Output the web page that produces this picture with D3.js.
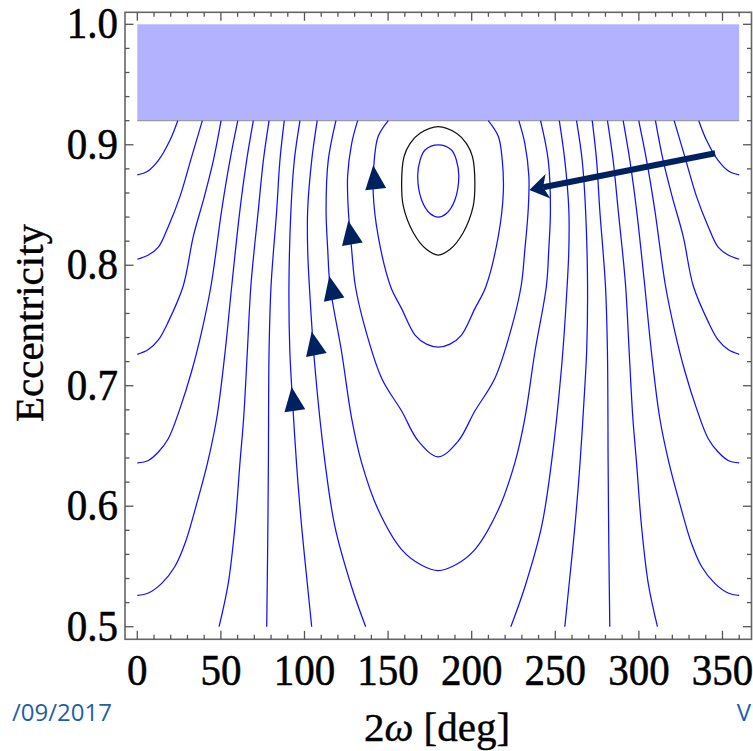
<!DOCTYPE html>
<html><head><meta charset="utf-8">
<script src="https://cdn.jsdelivr.net/npm/d3@7/dist/d3.min.js"></script>
<style>html,body{margin:0;padding:0;background:#fff;overflow:hidden}</style>
</head><body>
<svg id="c" width="753" height="751"></svg>
<script>
// ---------- data ----------
const xTickLabels = [0, 50, 100, 150, 200, 250, 300, 350];
const yTickLabels = [0.5, 0.6, 0.7, 0.8, 0.9, 1.0];
const xMinor = [0,10,20,30,40,50,60,70,80,90,100,110,120,130,140,150,160,170,180,190,200,210,220,230,240,250,260,270,280,290,300,310,320,330,340,350,360];
const yMinor = [0.5,0.52,0.54,0.56,0.58,0.6,0.62,0.64,0.66,0.68,0.7,0.72,0.74,0.76,0.78,0.8,0.82,0.84,0.86,0.88,0.9,0.92,0.94,0.96,0.98,1.0];
const xTitle = "2ω [deg]";
const yTitle = "Eccentricity";
const footerLeft = "/09/2017";
const footerRight = "V";
const forbidden = {x0: 0, x1: 360, e0: 0.92, e1: 1.0};

// blue contour curves, left family
const curveA = [[24.2,0.92],[19.6,0.904],[12.6,0.887],[6.2,0.878],[0,0.875]];
const curveB = [[38.9,0.92],[32.5,0.89],[25.5,0.857],[18.5,0.832],[12.6,0.815],[6.6,0.8085],[0,0.805]];
const curveC = [[50.1,0.92],[45.5,0.887],[40.1,0.857],[33.5,0.824],[27.5,0.783],[18.5,0.753],[12.6,0.738],[6.6,0.730],[0,0.726]];
const curveD = [[60.1,0.92],[55.4,0.887],[50.5,0.846],[44.1,0.783],[38.5,0.745],[32.5,0.712],[25.5,0.681],[18.5,0.656],[12.6,0.645],[6.6,0.638],[0,0.636]];
const curveE = [[69.4,0.92],[65.4,0.887],[61.4,0.846],[56.5,0.783],[52.5,0.728],[47.5,0.673],[42,0.636],[35.5,0.602],[28.5,0.569],[22.5,0.55],[14.6,0.536],[6.6,0.528],[0,0.526]];
const curveF = [[78.8,0.92],[75.4,0.887],[72.4,0.846],[68.0,0.784],[65.8,0.728],[63.6,0.673],[61.4,0.636],[58.4,0.583],[54.4,0.536],[48.9,0.5]];
const curveG = [[87.9,0.92],[85.3,0.887],[83.4,0.846],[80,0.783],[78.8,0.728],[78.4,0.636],[78,0.569],[77.4,0.5]];
const curveH = [[97.3,0.92],[93.9,0.887],[91.9,0.846],[90.7,0.783],[91.2,0.73],[92.3,0.70],[95.3,0.634],[98.3,0.583],[101.9,0.533],[104.3,0.5]];
const curveI = [[107.6,0.92],[104.3,0.887],[101.9,0.846],[101.9,0.813],[102.9,0.783],[106.3,0.7145],[112.3,0.636],[118.2,0.583],[128.2,0.533],[136.6,0.5]];
// blue contour curves, right family
const curveA2 = [[335.8,0.92],[340.4,0.904],[347.4,0.887],[353.8,0.878],[360,0.875]];
const curveB2 = [[321.1,0.92],[327.5,0.89],[334.5,0.857],[341.5,0.832],[347.4,0.815],[353.4,0.8085],[360,0.805]];
const curveC2 = [[309.9,0.92],[314.5,0.887],[319.9,0.857],[326.5,0.824],[332.5,0.783],[341.5,0.753],[347.4,0.738],[353.4,0.730],[360,0.726]];
const curveD2 = [[299.9,0.92],[304.6,0.887],[309.5,0.846],[315.9,0.783],[321.5,0.745],[327.5,0.712],[334.5,0.681],[341.5,0.656],[347.4,0.645],[353.4,0.638],[360,0.636]];
const curveE2 = [[290.6,0.92],[294.6,0.887],[298.6,0.846],[303.5,0.783],[307.5,0.728],[312.5,0.673],[318,0.636],[324.5,0.602],[331.5,0.569],[337.5,0.55],[345.4,0.536],[353.4,0.528],[360,0.526]];
const curveF2 = [[281.2,0.92],[284.6,0.887],[287.6,0.846],[292,0.784],[294.2,0.728],[296.4,0.673],[298.6,0.636],[301.6,0.583],[305.6,0.536],[311.1,0.5]];
const curveG2 = [[272.1,0.92],[274.7,0.887],[276.6,0.846],[280,0.783],[281.2,0.728],[281.6,0.636],[282,0.569],[282.6,0.5]];
const curveH2 = [[262.7,0.92],[266.1,0.887],[268.1,0.846],[269.3,0.783],[268.8,0.73],[267.7,0.70],[264.7,0.634],[261.7,0.583],[258.1,0.533],[255.7,0.5]];
const curveI2 = [[252.4,0.92],[255.7,0.887],[258.1,0.846],[258.1,0.813],[257.1,0.783],[253.7,0.7145],[247.7,0.636],[241.8,0.583],[231.8,0.533],[223.4,0.5]];
// U-shaped curves around 2ω = 180
const curveJ = [[118.8,0.92],[114.2,0.887],[112.9,0.846],[113.9,0.813],[115.3,0.783],[122.2,0.728],[128.2,0.673],[134.2,0.636],[144.1,0.597],[158.1,0.564],[170.1,0.551],[180,0.5466],
  [189.9,0.551],[201.9,0.564],[215.9,0.597],[225.8,0.636],[231.8,0.673],[237.8,0.728],[244.7,0.783],[246.1,0.813],[247.1,0.846],[245.8,0.887],[241.2,0.92]];
const curveK = [[131.8,0.92],[128.2,0.901],[125.8,0.874],[126.2,0.846],[128.2,0.813],[130.4,0.783],[136.2,0.748],[146.2,0.706],[158.1,0.679],[168.1,0.654],[180,0.641],
  [191.9,0.654],[201.9,0.679],[213.8,0.706],[223.8,0.748],[229.6,0.783],[231.8,0.813],[233.8,0.846],[234.2,0.874],[231.8,0.901],[228.2,0.92]];
const curveL = [[150.1,0.92],[144.1,0.907],[141.7,0.887],[141.1,0.86],[144.1,0.824],[151.6,0.782],[158.1,0.764],[166.1,0.742],[173,0.7345],[180,0.732],
  [187,0.7345],[193.9,0.742],[201.9,0.764],[208.4,0.782],[215.9,0.824],[218.9,0.86],[218.3,0.887],[215.9,0.907],[209.9,0.92]];
// closed curves
const ovalBlack = [[180,0.915],[190.9,0.9095],[196.9,0.901],[200.5,0.890],[201.9,0.868],[200.9,0.849],[194.9,0.827],[186.9,0.813],[180,0.8085],[173.1,0.813],[165.1,0.827],[159.1,0.849],[158.1,0.868],[159.5,0.890],[163.1,0.901],[169.1,0.9095]];
const ovalBlue = [[180,0.9],[187.9,0.8957],[190.9,0.887],[192.3,0.874],[189.9,0.854],[184.9,0.843],[180,0.84],[175.1,0.843],[170.1,0.854],[167.7,0.874],[169.1,0.887],[172.1,0.8957]];

const openCurves = [curveA,curveB,curveC,curveD,curveE,curveF,curveG,curveH,curveI,
  curveA2,curveB2,curveC2,curveD2,curveE2,curveF2,curveG2,curveH2,curveI2,curveJ,curveK,curveL];

// flow-direction triangles: tip and base-centre points
const flowTips  = [[141.1,0.883],[126.2,0.837],[114.8,0.791],[104.3,0.745],[92.3,0.699]];
const flowBases = [[142.5,0.8644],[128.7,0.8168],[117.8,0.7712],[107.1,0.7256],[94.1,0.6808]];
// big arrow (tail -> tip)
const bigArrowTail = [345.6, 0.893];
const bigArrowTip  = [234.5, 0.8625];

// ---------- drawing ----------
const svg = d3.select("#c");
const x = d3.scaleLinear().domain([0, 360]).range([137.3, 739.2]);
const y = d3.scaleLinear().domain([0.5, 1.0]).range([626.7, 24.3]);
const frame = {l: 125, r: 751.5, t: 12.3, b: 639.3};
const serif = "'Liberation Serif','Times New Roman',serif";
const navy = "#00215f";

// forbidden region
svg.append("rect")
  .attr("x", x(forbidden.x0)).attr("y", y(forbidden.e1))
  .attr("width", x(forbidden.x1) - x(forbidden.x0))
  .attr("height", y(forbidden.e0) - y(forbidden.e1))
  .attr("fill", "#b2b2ff");
svg.append("line")
  .attr("x1", x(forbidden.x0)).attr("x2", x(forbidden.x1))
  .attr("y1", y(forbidden.e0)).attr("y2", y(forbidden.e0))
  .attr("stroke", "#9a9aa8").attr("stroke-width", 1.2);

const line = d3.line().x(d => x(d[0])).y(d => y(d[1])).curve(d3.curveCatmullRom.alpha(0.5));
const closed = d3.line().x(d => x(d[0])).y(d => y(d[1])).curve(d3.curveCatmullRomClosed.alpha(0.5));

svg.append("g").selectAll("path").data(openCurves).join("path")
  .attr("d", line).attr("fill", "none").attr("stroke", "#1010ff").attr("stroke-width", 1.25);
svg.append("path").attr("d", closed(ovalBlue)).attr("fill", "none").attr("stroke", "#1010ff").attr("stroke-width", 1.25);
svg.append("path").attr("d", closed(ovalBlack)).attr("fill", "none").attr("stroke", "#111").attr("stroke-width", 1.25);

// triangles
flowTips.forEach((t, i) => {
  const b = flowBases[i];
  const tx = x(t[0]), ty = y(t[1]), bx = x(b[0]), by = y(b[1]);
  const ang = Math.atan2(by - ty, bx - tx);
  const L = 24, W = 10.5;
  const ux = Math.cos(ang), uy = Math.sin(ang);
  const cx = tx + ux * L, cy = ty + uy * L;
  const p = [[tx, ty], [cx - uy * W, cy + ux * W], [cx + uy * W, cy - ux * W]];
  svg.append("path").attr("d", "M" + p.map(q => q.join(",")).join("L") + "Z").attr("fill", navy);
});

// big arrow
(function () {
  const x0 = x(bigArrowTail[0]), y0 = y(bigArrowTail[1]);
  const x1 = x(bigArrowTip[0]), y1 = y(bigArrowTip[1]);
  const ang = Math.atan2(y0 - y1, x0 - x1);
  const ux = Math.cos(ang), uy = Math.sin(ang);
  const HL = 19, HW = 12.5, notch = 14;
  svg.append("line").attr("x1", x0).attr("y1", y0)
    .attr("x2", x1 + ux * notch).attr("y2", y1 + uy * notch)
    .attr("stroke", navy).attr("stroke-width", 6);
  const bx = x1 + ux * HL, by = y1 + uy * HL;
  const p = [[x1, y1], [bx - uy * HW, by + ux * HW], [x1 + ux * notch, y1 + uy * notch], [bx + uy * HW, by - ux * HW]];
  svg.append("path").attr("d", "M" + p.map(q => q.join(",")).join("L") + "Z").attr("fill", navy);
})();

// frame
svg.append("rect").attr("x", frame.l).attr("y", frame.t)
  .attr("width", frame.r - frame.l).attr("height", frame.b - frame.t)
  .attr("fill", "none").attr("stroke", "#666").attr("stroke-width", 1.6);

const isMajorX = v => xTickLabels.includes(v);
const isMajorY = v => yTickLabels.some(t => Math.abs(t - v) < 1e-9);
const tk = svg.append("g").attr("stroke", "#555").attr("stroke-width", 1.3);
xMinor.forEach(v => {
  const len = isMajorX(v) ? 8.5 : 4.5;
  tk.append("line").attr("x1", x(v)).attr("x2", x(v)).attr("y1", frame.b).attr("y2", frame.b - len);
  tk.append("line").attr("x1", x(v)).attr("x2", x(v)).attr("y1", frame.t).attr("y2", frame.t + len);
});
yMinor.forEach(v => {
  const len = isMajorY(v) ? 8.5 : 4.5;
  tk.append("line").attr("y1", y(v)).attr("y2", y(v)).attr("x1", frame.l).attr("x2", frame.l + len);
  tk.append("line").attr("y1", y(v)).attr("y2", y(v)).attr("x1", frame.r).attr("x2", frame.r - len);
});

// tick labels
svg.append("g").selectAll("text").data(xTickLabels).join("text")
  .attr("transform", d => `translate(${x(d)},685) scale(1,1.08)`).attr("text-anchor", "middle")
  .attr("font-family", serif).attr("font-size", 41).attr("fill", "#000")
  .attr("stroke", "#000").attr("stroke-width", 0.5)
  .text(d => d);
svg.append("g").selectAll("text").data(yTickLabels).join("text")
  .attr("transform", d => `translate(118,${y(d) + 14}) scale(1,1.08)`).attr("text-anchor", "end")
  .attr("font-family", serif).attr("font-size", 41).attr("fill", "#000")
  .attr("stroke", "#000").attr("stroke-width", 0.5)
  .text(d => d.toFixed(1));

// axis titles
const xt = svg.append("text").attr("x", 437).attr("y", 741).attr("text-anchor", "middle")
  .attr("font-family", serif).attr("font-size", 41).attr("fill", "#000")
  .attr("stroke", "#000").attr("stroke-width", 0.4);
xt.append("tspan").text(xTitle.slice(0, 1));
xt.append("tspan").attr("font-style", "italic").text(xTitle.slice(1, 2));
xt.append("tspan").text(xTitle.slice(2));
svg.append("text").attr("transform", "translate(43,323) rotate(-90)").attr("text-anchor", "middle")
  .attr("font-family", serif).attr("font-size", 41).attr("fill", "#000")
  .attr("stroke", "#000").attr("stroke-width", 0.4).text(yTitle);

// slide footer remnants
svg.append("text").attr("x", 112).attr("y", 721).attr("text-anchor", "end")
  .attr("font-family", "'Open Sans','Noto Sans',sans-serif").attr("font-size", 24).attr("fill", "#1f5fa6").text(footerLeft);
svg.append("text").attr("x", 751).attr("y", 721).attr("text-anchor", "end")
  .attr("font-family", "'Open Sans','Noto Sans',sans-serif").attr("font-size", 24).attr("fill", "#1f5fa6").text(footerRight);
</script>
</body></html>
